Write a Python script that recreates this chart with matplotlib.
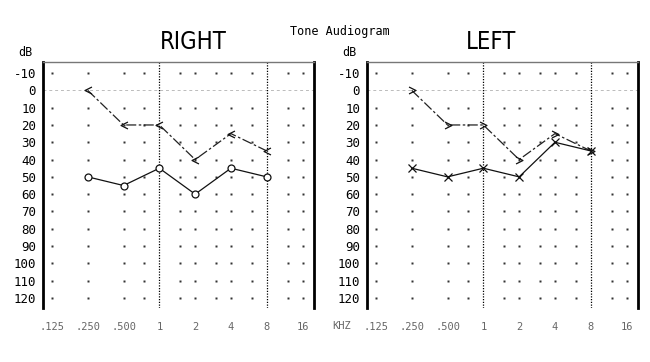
import numpy as np
import matplotlib
matplotlib.use("Agg")
import matplotlib.pyplot as plt
from matplotlib.path import Path

# ---------------- data ----------------
freqs_khz = [0.25, 0.5, 1, 2, 4, 8]
right_air = [50, 55, 45, 60, 45, 50]
right_bone = [0, 20, 20, 40, 25, 35]
left_air = [45, 50, 45, 50, 30, 35]
left_bone = [0, 20, 20, 40, 25, 35]

tick_freqs = [0.125, 0.25, 0.5, 1, 2, 4, 8, 16]
tick_labels = [".125", ".250", ".500", "1", "2", "4", "8", "16"]
dot_freqs = [0.125, 0.25, 0.5, 0.75, 1.5, 2, 3, 4, 6, 12, 16]
db_ticks = list(range(-10, 130, 10))

MONO = ["DejaVu Sans Mono"]

fig = plt.figure(figsize=(6.5, 3.62), dpi=100)
fig.patch.set_facecolor("white")

chev_left = Path([(1, 1), (-1, 0), (1, -1)], [Path.MOVETO, Path.LINETO, Path.LINETO])
chev_right = Path([(-1, 1), (1, 0), (-1, -1)], [Path.MOVETO, Path.LINETO, Path.LINETO])

panels = [
    (43 / 650, 193 / 650, "RIGHT", right_air, right_bone, "o", chev_left),
    (367 / 650, 491 / 650, "LEFT", left_air, left_bone, "x", chev_right),
]

W = 271 / 650
B = 1 - 308 / 362
H = 246 / 362

for left, cx, title, air, bone, amark, bmark in panels:
    ax = fig.add_axes([left, B, W, H])
    ax.set_xscale("log", base=2)
    ax.set_xlim(0.125 * 2 ** -0.25, 0.125 * 2 ** 7.32)
    ax.set_ylim(125.8, -16.4)

    # dot grid
    for f in dot_freqs:
        for d in db_ticks:
            if d == 0:
                continue
            ax.plot(f, d, marker="s", ms=1.6, color="#333333", mec="none", zorder=1)
    ax.axhline(0, color="#bbbbbb", lw=0.7, ls=(0, (3, 3)), zorder=1)
    for f in (1, 8):
        ax.axvline(f, color="black", lw=0.9, ls=(0, (1, 1.2)), zorder=1)

    # bone conduction
    ax.plot(freqs_khz, bone, color="#222222", lw=0.9, ls=(0, (8, 2, 2, 2)),
            marker=bmark, ms=5, mfc="none", mec="#111111", mew=0.9, zorder=3)
    # air conduction
    ax.plot(freqs_khz, air, color="#111111", lw=0.9, ls="-",
            marker=amark, ms=5 if amark == "o" else 5.5, mfc="white",
            mec="#111111", mew=0.9, zorder=4)

    ax.set_yticks(db_ticks)
    ax.set_yticklabels([str(d) for d in db_ticks], family=MONO, fontsize=9)
    ax.set_xticks(tick_freqs)
    ax.set_xticklabels(tick_labels, family=MONO, fontsize=7.5, color="#666666")
    ax.xaxis.set_minor_locator(matplotlib.ticker.NullLocator())
    ax.tick_params(axis="both", length=0)
    ax.tick_params(axis="y", pad=5)
    ax.tick_params(axis="x", pad=10)

    for s in ("left", "right"):
        ax.spines[s].set_linewidth(2.0)
        ax.spines[s].set_color("black")
    ax.spines["top"].set_linewidth(1.0)
    ax.spines["top"].set_color("#777777")
    ax.spines["bottom"].set_visible(False)

    fig.text(cx, 1 - 42 / 362, title, ha="center", va="center",
             family="DejaVu Sans", fontstretch="condensed", fontsize=17,
             fontweight="normal")
    fig.text(left - 18 / 650, 1 - 52 / 362, "dB", ha="center", va="center",
             family=MONO, fontsize=8.5)

fig.text(340 / 650, 1 - 31 / 362, "Tone Audiogram", ha="center", va="center",
         family=MONO, fontsize=8.5)
fig.text(342 / 650, 1 - 326 / 362, "KHZ", ha="center", va="center",
         family=MONO, fontsize=7.5, color="#666666")

fig.savefig("out.png", dpi=100, facecolor="white")
